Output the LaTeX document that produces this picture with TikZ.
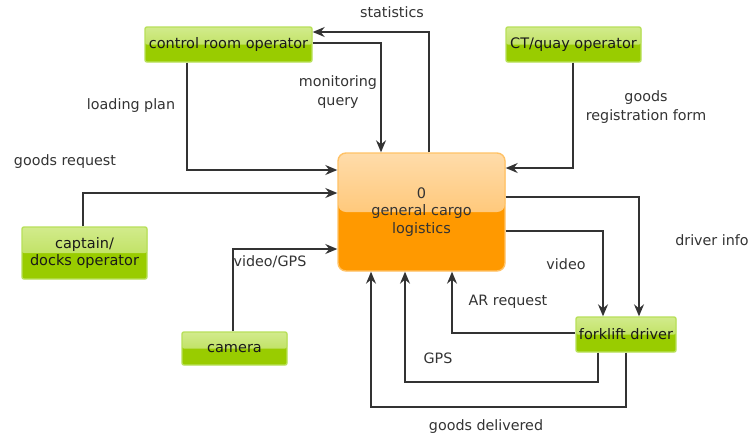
\documentclass[tikz,border=0pt]{standalone}
\usepackage{fontspec}
\setmainfont{DejaVu Sans}
\usetikzlibrary{arrows.meta,calc}
\definecolor{gbot}{HTML}{99CC00}
\definecolor{gtop}{HTML}{D2EB8C}
\definecolor{gmid}{HTML}{B2DA42}
\definecolor{gline}{HTML}{B8E05A}
\definecolor{obot}{HTML}{FF9900}
\definecolor{otop}{HTML}{FFDCAA}
\definecolor{omid}{HTML}{FFB64E}
\definecolor{oline}{HTML}{FFC266}
\definecolor{ink}{HTML}{333333}
\tikzset{
  gbox/.style={draw=gline, line width=1.4pt, fill=gbot, rounded corners=2pt,
    inner sep=0pt, align=center, font=\fontsize{14.5}{16.5}\selectfont, text=black!90,
    path picture={\fill[top color=gtop, bottom color=gmid]
      (path picture bounding box.north west) rectangle (path picture bounding box.east);}},
  obox/.style={draw=oline, line width=1.4pt, fill=obot, rounded corners=8pt,
    inner sep=0pt, align=center, font=\fontsize{14.5}{17.5}\selectfont, text=black!80,
    path picture={\fill[top color=otop, bottom color=omid]
      (path picture bounding box.north west) rectangle (path picture bounding box.east);}},
  arr/.style={draw=ink, line width=1.2pt, -{Stealth[length=12pt,width=10pt,inset=4pt]}},
  lab/.style={text=ink, align=center, font=\fontsize{14.3}{19}\selectfont, inner sep=0pt}
}
\begin{document}
\begin{tikzpicture}[x=1pt,y=-1pt]
\useasboundingbox (0,0) rectangle (749,437);
\fill[white] (0,0) rectangle (749,437);
% nodes
\node[gbox, minimum width=167pt, minimum height=35pt] (ctrl) at (228.5,44.5) {control room operator};
\node[gbox, minimum width=135pt, minimum height=35pt] (ct) at (573.5,44.5) {CT/quay operator};
\node[obox, minimum width=167pt, minimum height=118pt] (main) at (421.5,212) {0\\general cargo\\logistics};
\node[gbox, minimum width=125pt, minimum height=52pt] (cap) at (84.5,253) {captain/\\docks operator};
\node[gbox, minimum width=105pt, minimum height=33pt] (cam) at (234.5,348.5) {camera};
\node[gbox, minimum width=100pt, minimum height=35pt] (fork) at (626,334.5) {forklift driver};
% helper coordinates
\coordinate (s1) at (429,32);
\coordinate (m1) at (381,43);
\coordinate (l1) at (187,170);
\coordinate (g1) at (573,168);
\coordinate (r1) at (83,193);
\coordinate (v1) at (233,249);
\coordinate (d1) at (639,197);
\coordinate (v2) at (603,231);
\coordinate (a1) at (452,333);
\coordinate (p1) at (598,382);
\coordinate (p2) at (405,382);
\coordinate (q1) at (626,407);
\coordinate (q2) at (371,407);
% connectors
\draw[arr] (main.north -| s1) |- (ctrl.east |- s1);
\draw[arr] (ctrl.east |- m1) -| (main.north -| m1);
\draw[arr] (ctrl.south -| l1) |- (main.west |- l1);
\draw[arr] (ct.south -| g1) |- (main.east |- g1);
\draw[arr] (cap.north -| r1) |- (main.west |- r1);
\draw[arr] (cam.north -| v1) |- (main.west |- v1);
\draw[arr] (main.east |- d1) -| (fork.north -| d1);
\draw[arr] (main.east |- v2) -| (fork.north -| v2);
\draw[arr] (fork.west |- a1) -| (main.south -| a1);
\draw[arr] (fork.south -| p1) |- (p2) -- (main.south -| p2);
\draw[arr] (fork.south -| q1) |- (q2) -- (main.south -| q2);
% labels
\node[lab] (tstat) at (392,12) {statistics};
\node[lab] (tmon) at (338,92) {monitoring\\query};
\node[lab] (tload) at (131,106) {loading plan};
\node[lab] (treq) at (65,162) {goods request};
\node[lab] (treg) at (646,107) {goods\\registration form};
\node[lab] (tdrv) at (712,240) {driver info};
\node[lab] (tvid) at (566,264) {video};
\node[lab] (tvg) at (270,262) {video/GPS};
\node[lab] (tar) at (508,302) {AR request};
\node[lab] (tgps) at (438,358) {GPS};
\node[lab] (tdel) at (486,427) {goods delivered};
\end{tikzpicture}
\end{document}
